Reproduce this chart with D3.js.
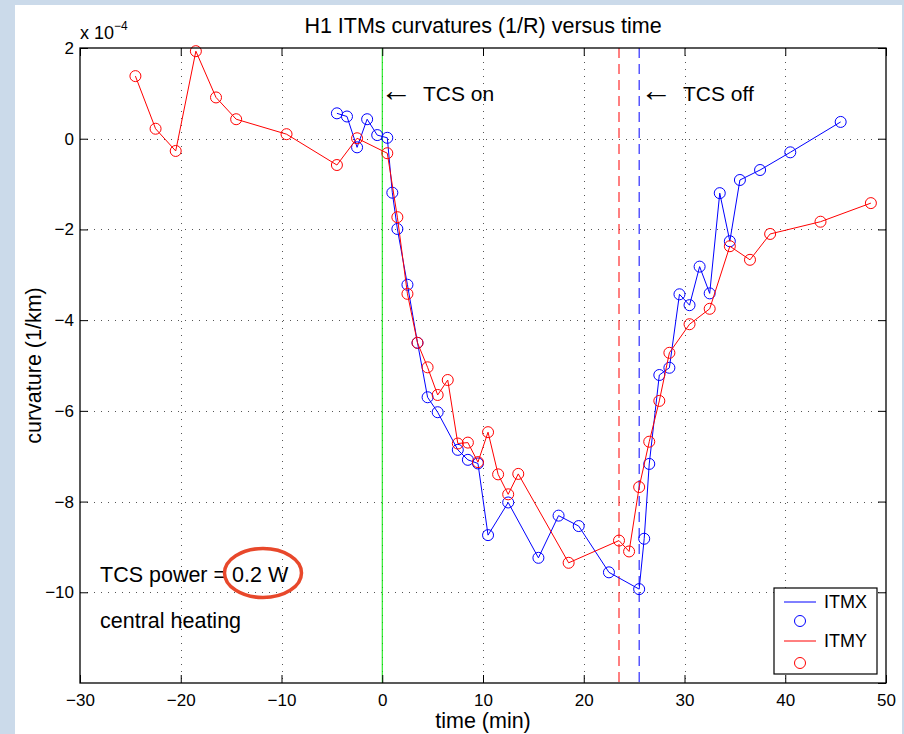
<!DOCTYPE html>
<html>
<head>
<meta charset="utf-8">
<script src="https://cdn.jsdelivr.net/npm/d3@7"></script>
<style>
    html, body { margin: 0; padding: 0; background: #cbdaea; overflow: hidden; }
    text { font-family: "Liberation Sans", Arial, Helvetica, sans-serif; fill: #000; }
</style>
</head>
<body>
<script>
// curvature values are in units of 1e-4 (1/km)
const itmxTime = [-4.5, -3.5, -2.5, -1.5, -0.5, 0.5, 1, 1.5, 2.5, 3.5, 4.5, 5.5, 7.5, 8.5, 9.5, 10.5,
    12.5, 15.5, 17.5, 19.5, 22.5, 25.5, 26, 26.5, 27.5, 28.5, 29.5, 30.5, 31.5, 32.5, 33.5, 34.5,
    35.5, 37.5, 40.5, 45.5];
const itmxCurv = [0.56, 0.49, -0.19, 0.43, 0.08, 0.02, -1.19, -1.99, -3.22, -4.50, -5.70, -6.03,
    -6.86, -7.08, -7.16, -8.74, -8.02, -9.24, -8.31, -8.54, -9.56, -9.93, -8.82, -7.17, -5.21,
    -5.05, -3.43, -3.67, -2.82, -3.41, -1.20, -2.26, -0.91, -0.69, -0.30, 0.37];

const itmyTime = [-24.5, -22.5, -20.5, -18.5, -16.5, -14.5, -9.5, -4.5, -2.5, 0.5, 1.5, 2.5, 3.5,
    4.5, 5.5, 6.5, 7.5, 8.5, 9.5, 10.5, 11.5, 12.5, 13.5, 18.5, 23.5, 24.5, 25.5, 26.5, 27.5,
    28.5, 30.5, 32.5, 34.5, 36.5, 38.5, 43.5, 48.5];
const itmyCurv = [1.38, 0.22, -0.27, 1.93, 0.91, 0.43, 0.10, -0.58, 0.01, -0.32, -1.73, -3.42,
    -4.50, -5.04, -5.65, -5.32, -6.72, -6.70, -7.13, -6.47, -7.40, -7.84, -7.39, -9.35, -8.86,
    -9.10, -7.68, -6.68, -5.78, -4.72, -4.09, -3.75, -2.37, -2.67, -2.10, -1.83, -1.42];

const xTicks = [-30, -20, -10, 0, 10, 20, 30, 40, 50];
const yTicks = [2, 0, -2, -4, -6, -8, -10];
const xDomain = [-30, 50];
const yDomain = [-12, 2];

const tcsOnTime = 0;
const tcsOffY = 23.5;
const tcsOffX = 25.5;

const titleText = "H1 ITMs curvatures (1/R) versus time";
const xLabel = "time (min)";
const yLabel = "curvature (1/km)";
const legendNames = ["ITMX", "ITMY"];

const width = 904, height = 734;
const plot = {left: 80, right: 886, top: 48, bottom: 683};
const labelSize = "21.5px";

const svg = d3.select("body").append("svg")
    .attr("width", width)
    .attr("height", height);

// white panel on the light blue page
svg.append("rect")
    .attr("x", 15).attr("y", 5)
    .attr("width", 887).attr("height", height)
    .attr("fill", "#fff");

const xScale = d3.scaleLinear().domain(xDomain).range([plot.left, plot.right]);
const yScale = d3.scaleLinear().domain(yDomain).range([plot.bottom, plot.top]);

function series(times, values) {
    return times.map((t, i) => ({t: t, c: values[i]}));
}

function renderGrid() {
    const g = svg.append("g").attr("class", "grid")
        .attr("stroke", "#555").attr("stroke-width", 1).attr("stroke-dasharray", "1,6");
    g.selectAll("line.vx")
        .data(xTicks.filter(d => d > xDomain[0] && d < xDomain[1]))
        .enter().append("line")
        .attr("x1", d => Math.round(xScale(d)) + 0.5).attr("x2", d => Math.round(xScale(d)) + 0.5)
        .attr("y1", plot.top).attr("y2", plot.bottom);
    g.selectAll("line.hy")
        .data(yTicks.filter(d => d > yDomain[0] && d < yDomain[1]))
        .enter().append("line")
        .attr("y1", d => Math.round(yScale(d)) + 0.5).attr("y2", d => Math.round(yScale(d)) + 0.5)
        .attr("x1", plot.left).attr("x2", plot.right);
}

function renderAxes() {
    const xAxis = d3.axisBottom(xScale).tickValues(xTicks).tickSize(-8).tickSizeOuter(0).tickPadding(11);
    const yAxis = d3.axisLeft(yScale).tickValues(yTicks).tickSize(-8).tickSizeOuter(0).tickPadding(6);
    const xTop = d3.axisTop(xScale).tickValues(xTicks).tickSize(-8).tickSizeOuter(0).tickFormat("");
    const yRight = d3.axisRight(yScale).tickValues(d3.range(-12, 3, 2)).tickSize(-8).tickSizeOuter(0).tickFormat("");

    svg.append("g").attr("class", "xaxis")
        .attr("transform", "translate(0," + plot.bottom + ")").call(xAxis);
    svg.append("g").attr("class", "yaxis")
        .attr("transform", "translate(" + plot.left + ",0)").call(yAxis);
    svg.append("g").attr("transform", "translate(0," + plot.top + ")").call(xTop);
    svg.append("g").attr("transform", "translate(" + plot.right + ",0)").call(yRight);

    svg.selectAll(".tick text")
        .style("font-size", "17px")
        .style("font-family", '"Liberation Sans", Arial, sans-serif');
    svg.selectAll(".domain").remove();
    svg.selectAll(".tick line").attr("stroke", "#000");

    // box around the axes
    svg.append("rect")
        .attr("x", plot.left).attr("y", plot.top)
        .attr("width", plot.right - plot.left).attr("height", plot.bottom - plot.top)
        .attr("fill", "none").attr("stroke", "#000").attr("stroke-width", 1.3);

    // exponent label
    const exp = svg.append("text").attr("x", 80).attr("y", 39).style("font-size", "18px");
    exp.append("tspan").text("x 10");
    exp.append("tspan").attr("dy", -9).style("font-size", "12px").text("\u22124");
}

function renderMarkers() {
    const g = svg.append("g").attr("class", "markers");
    g.append("line")
        .attr("x1", xScale(tcsOnTime)).attr("x2", xScale(tcsOnTime))
        .attr("y1", plot.top).attr("y2", plot.bottom)
        .attr("stroke", "#00e600").attr("stroke-width", 1);
    g.append("line")
        .attr("x1", xScale(tcsOffY)).attr("x2", xScale(tcsOffY))
        .attr("y1", plot.top).attr("y2", plot.bottom)
        .attr("stroke", "#ff0000").attr("stroke-width", 1).attr("stroke-dasharray", "10,6");
    g.append("line")
        .attr("x1", xScale(tcsOffX)).attr("x2", xScale(tcsOffX))
        .attr("y1", plot.top).attr("y2", plot.bottom)
        .attr("stroke", "#0000ff").attr("stroke-width", 1).attr("stroke-dasharray", "10,6");
}

function renderSeries(data, color) {
    const line = d3.line().x(d => xScale(d.t)).y(d => yScale(d.c));
    const g = svg.append("g").attr("class", "series");
    g.append("path")
        .datum(data)
        .attr("d", line)
        .attr("fill", "none")
        .attr("stroke", color)
        .attr("stroke-width", 1);
    g.selectAll("circle")
        .data(data)
        .enter().append("circle")
        .attr("cx", d => xScale(d.t))
        .attr("cy", d => yScale(d.c))
        .attr("r", 5.5)
        .attr("fill", "none")
        .attr("stroke", color)
        .attr("stroke-width", 1);
}

function arrowText(x, y, label) {
    // thin, long arrow like the original symbol font
    svg.append("text").attr("x", x).attr("y", y)
        .style("font-size", "32px").text("\u2190");
    svg.append("text").attr("x", x + 43).attr("y", y)
        .style("font-size", "21px").text(label);
}

function renderLabels() {
    svg.append("text")
        .attr("x", (plot.left + plot.right) / 2).attr("y", 33)
        .attr("text-anchor", "middle").style("font-size", labelSize)
        .text(titleText);
    svg.append("text")
        .attr("x", (plot.left + plot.right) / 2).attr("y", 728)
        .attr("text-anchor", "middle").style("font-size", labelSize)
        .text(xLabel);
    svg.append("text")
        .attr("transform", "translate(41," + ((plot.top + plot.bottom) / 2) + ") rotate(-90)")
        .attr("text-anchor", "middle").style("font-size", labelSize)
        .text(yLabel);

    arrowText(380, 101, "TCS on");
    arrowText(640, 101, "TCS off");

    svg.append("text").attr("x", 100).attr("y", 582).style("font-size", labelSize).text("TCS power = 0.2 W");
    svg.append("text").attr("x", 100).attr("y", 628).style("font-size", labelSize).text("central heating");

    svg.append("ellipse")
        .attr("cx", 263).attr("cy", 573).attr("rx", 38.5).attr("ry", 24.5)
        .attr("fill", "none").attr("stroke", "#e8482b").attr("stroke-width", 3.5);
}

function renderLegend() {
    const box = {x: 774, y: 588, w: 103, h: 86};
    const g = svg.append("g").attr("class", "legend");
    g.append("rect")
        .attr("x", box.x).attr("y", box.y).attr("width", box.w).attr("height", box.h)
        .attr("fill", "#fff").attr("stroke", "#000").attr("stroke-width", 1.2);
    const colors = ["#0000ff", "#ff0000"];
    legendNames.forEach((name, i) => {
        const yLine = box.y + 14 + i * 39;
        const yCirc = yLine + 19 + i * 3;
        g.append("line")
            .attr("x1", box.x + 10).attr("x2", box.x + 42)
            .attr("y1", yLine).attr("y2", yLine)
            .attr("stroke", colors[i]).attr("stroke-width", 1);
        g.append("text")
            .attr("x", box.x + 50).attr("y", yLine + 6)
            .style("font-size", "18px").text(name);
        g.append("circle")
            .attr("cx", box.x + 26).attr("cy", yCirc).attr("r", 5.5)
            .attr("fill", "none").attr("stroke", colors[i]).attr("stroke-width", 1);
    });
}

renderGrid();
renderMarkers();
renderSeries(series(itmxTime, itmxCurv), "#0000ff");
renderSeries(series(itmyTime, itmyCurv), "#ff0000");
renderAxes();
renderLabels();
renderLegend();
</script>
</body>
</html>
